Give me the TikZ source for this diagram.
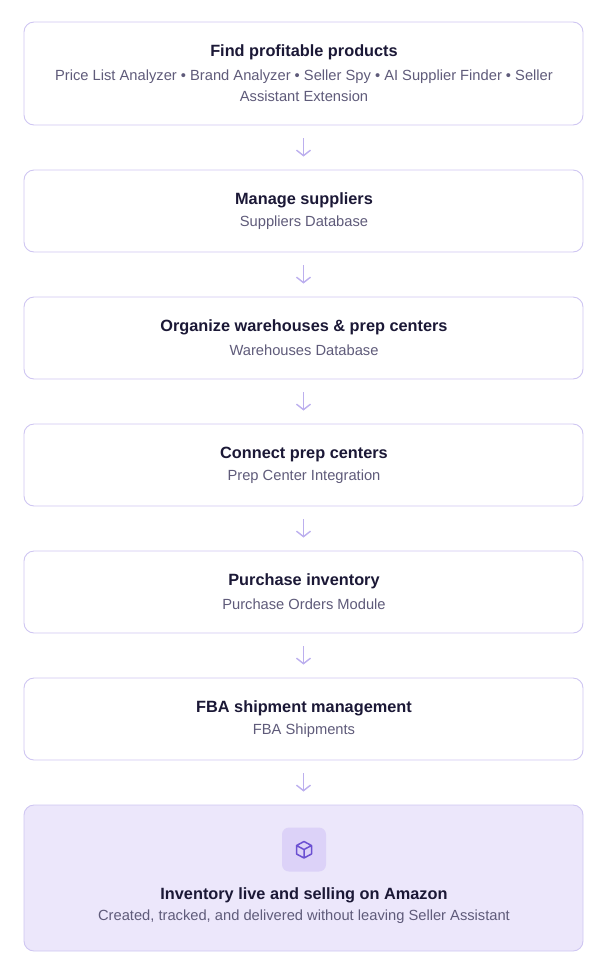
\documentclass[tikz,border=0pt]{standalone}
\usepackage{fontspec}
\setmainfont{Liberation Sans}
\usetikzlibrary{positioning,arrows.meta}
\definecolor{edge}{HTML}{CFC6F2}
\definecolor{ink}{HTML}{1B1836}
\definecolor{muted}{HTML}{5F5B7A}
\definecolor{arr}{HTML}{BCAFEE}
\definecolor{soft}{HTML}{ECE7FB}
\definecolor{iconbg}{HTML}{DCD2F8}
\definecolor{iconline}{HTML}{6B50D2}
\begin{document}
\begin{tikzpicture}[x=1pt,y=-1pt]
       \tikzstyle{arrow} = [line width=1.4pt,draw=arr,-{Straight Barb[length=5.5pt,width=14pt]}]
       \tikzset{stage/.style = {rectangle, rounded corners=10pt, draw=edge, fill=white, line width=0.9pt, minimum width=559pt, inner sep=0pt}, }
       \tikzset{stagetitle/.style = {text=ink, font=\fontsize{16.3}{18}\selectfont\bfseries}, }
       \tikzset{stagesub/.style = {text=muted, font=\fontsize{14.7}{21}\selectfont, align=center}, }
       \useasboundingbox (0,0) rectangle (608,978);
       \node[stage, minimum height=103pt] (S1) at (303.5,73.5) {};
       \node[stage, minimum height=82pt] (S2) at (303.5,211) {};
       \node[stage, minimum height=82pt] (S3) at (303.5,338) {};
       \node[stage, minimum height=82pt] (S4) at (303.5,465) {};
       \node[stage, minimum height=82pt] (S5) at (303.5,592) {};
       \node[stage, minimum height=82pt] (S6) at (303.5,719) {};
       \node[stage, minimum height=146pt, fill=soft] (S7) at (303.5,878) {};

       \node[stagetitle] at (304,52) {Find profitable products};
       \node[stagesub] at (304,86) {Price List Analyzer • Brand Analyzer • Seller Spy • AI Supplier Finder • Seller\\Assistant Extension};
       \node[stagetitle] at (304,200) {Manage suppliers};
       \node[stagesub] at (304,223) {Suppliers Database};
       \node[stagetitle] at (304,327) {Organize warehouses \& prep centers};
       \node[stagesub] at (304,350) {Warehouses Database};
       \node[stagetitle] at (304,454) {Connect prep centers};
       \node[stagesub] at (304,477) {Prep Center Integration};
       \node[stagetitle] at (304,581) {Purchase inventory};
       \node[stagesub] at (304,604) {Purchase Orders Module};
       \node[stagetitle] at (304,708) {FBA shipment management};
       \node[stagesub] at (304,731) {FBA Shipments};
       \node[stagetitle] at (304,895) {Inventory live and selling on Amazon};
       \node[stagesub] at (304,917) {Created, tracked, and delivered without leaving Seller Assistant};

       % cube icon
       \node[rectangle, rounded corners=7pt, fill=iconbg, minimum width=44pt, minimum height=44pt] (icon) at (304,849.5) {};
       \draw[iconline, line width=1.5pt, line join=round]
       (304,841.5) -- (311.5,845.5) -- (311.5,854) -- (304,858) -- (296.5,854) -- (296.5,845.5) -- cycle
       (296.5,845.5) -- (304,849.5) -- (311.5,845.5)
       (304,849.5) -- (304,858);

       \foreach \a/\b in {S1/S2,S2/S3,S3/S4,S4/S5,S5/S6,S6/S7}
       \draw[arrow] ([yshift=-13pt]\a.south) -- ([yshift=13pt]\b.north);
\end{tikzpicture}
\end{document}
